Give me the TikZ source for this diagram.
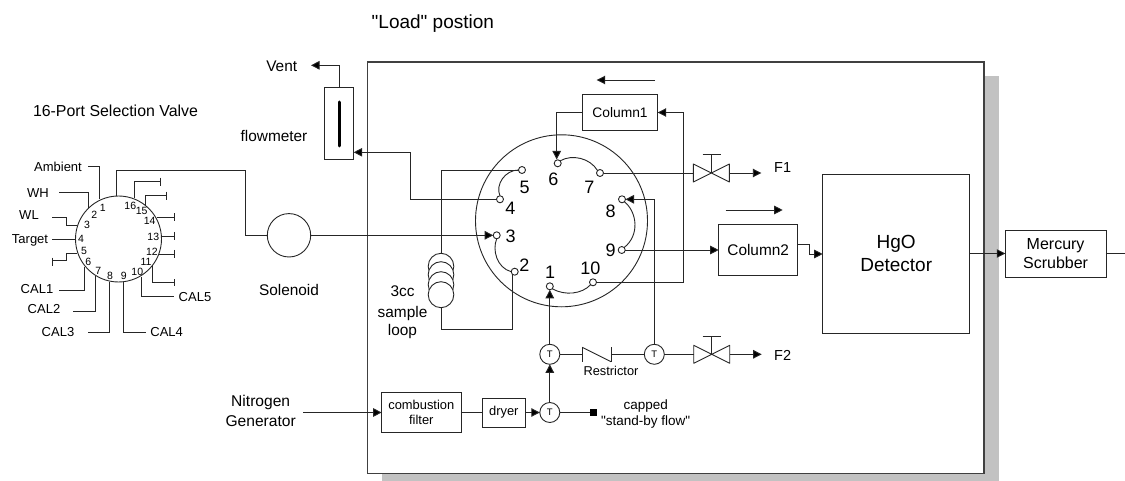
\documentclass[tikz,border=0pt]{standalone}
\usepackage{fontspec}
\setmainfont{Liberation Sans}
\newfontfamily\qf{Liberation Sans}
\usetikzlibrary{arrows.meta,shapes.geometric}
\newcommand{\fs}[1]{\fontsize{#1}{#1}\selectfont}
\newcommand{\qq}{{\qf"}}
\tikzset{
  x=1pt,y=-1pt,
  ln/.style={draw=black!85,line width=0.9pt},
  arr/.style={ln,-{Triangle[length=8.5pt,width=8.5pt,fill=black]}},
  boxn/.style={draw=black!85,line width=0.9pt,rectangle,fill=white,inner sep=0pt,outer sep=0pt,text=black,align=center},
  lab/.style={inner sep=0pt,outer sep=0pt,align=center,text=black,font=\fs{15.4}},
  sm/.style={lab,font=\fs{13}},
  nm/.style={lab,font=\fs{10.5}},
  big/.style={lab,font=\fs{18}},
  port/.style={draw=black!85,circle,line width=0.9pt,fill=white,minimum size=7pt,inner sep=0pt,outer sep=0pt},
  tee/.style={draw=black!85,circle,line width=0.9pt,fill=white,minimum size=20pt,inner sep=0pt,outer sep=0pt,text=black,font=\fs{9.5}},
  ringn/.style={draw=black!85,circle,line width=0.9pt,inner sep=0pt,outer sep=0pt},
  coiln/.style={draw=black!85,ellipse,line width=0.9pt,fill=white,minimum width=25.6pt,minimum height=26pt,inner sep=0pt,outer sep=0pt},
}
\definecolor{shadowgray}{HTML}{C2C2C2}
\begin{document}
\begin{tikzpicture}
\useasboundingbox (0,0) rectangle (1125,481);
% enclosure with shadow
\fill[shadowgray] (382,76) rectangle (999,480.5);
\node[boxn,line width=1.1pt,draw=black!75,minimum width=616.5pt,minimum height=411.3pt] (main) at (675.75,267.65) {};
% titles
\node[lab,font=\fs{19},anchor=west] (title) at (371.7,24) {\qq Load\qq{} postion};
\node[lab,font=\fs{15.9}] (svt) at (115.5,110.7) {16-Port Selection Valve};
% selection valve
\node[ringn,minimum size=86pt] (sv) at (118.5,239) {};
\node[sm] (amb) at (58,167) {Ambient};
\node[sm] (wh) at (38,193) {WH};
\node[sm] (wl) at (29,215) {WL};
\node[sm] (tgt) at (30,240) {Target};
\node[sm] (cal1) at (37,289) {CAL1};
\node[sm] (cal2) at (44,309) {CAL2};
\node[sm] (cal3) at (58,332) {CAL3};
\node[sm] (cal4) at (166.7,332) {CAL4};
\node[sm] (cal5) at (195,297.5) {CAL5};
\foreach \t/\x/\y in {1/102.7/208.3,2/94.3/215.3,3/87/225.3,4/81/238.7,5/84/251,6/88.3/261.7,7/98.3/271,8/110/276.3,9/123.7/276.3,10/137.3/271.7,11/146/261.7,12/152/251.7,13/153.3/236.7,14/149.7/220.7,15/141.7/211.3,16/130.3/205.7}
  \node[nm] (n\t) at (\x,\y) {\t};
\draw[ln] (88,166) -- (99,166) -- (99,199);
\draw[ln] (59,192) -- (88,192) -- (88,208);
\draw[ln] (52,217) -- (66.7,217) -- (66.7,225) -- (77,225);
\draw[ln] (52,239) -- (sv.west);
\draw[ln] (77,253) -- (66.7,253) -- (66.7,260.7) -- (52.3,260.7);
\draw[ln] (52.3,257.7) -- (52.3,266);
\draw[ln] (84.3,266.7) -- (84.3,290) -- (59,290);
\draw[ln] (95,275.7) -- (95,311.7) -- (73,311.7);
\draw[ln] (109.3,281.7) -- (109.3,332.7) -- (88,332.7);
\draw[ln] (123.3,282) -- (123.3,332.7) -- (145.7,332.7);
\draw[ln] (141.7,276.7) -- (141.7,296.7) -- (174,296.7);
\draw[ln] (152.3,265) -- (152.3,282.7) -- (174,282.7);
\draw[ln] (174,279.3) -- (174,286);
\foreach \ya/\xa in {254/159.3,236/161,217.3/156.7}{
  \draw[ln] (\xa,\ya) -- (174,\ya);
  \draw[ln] (174,\ya-4) -- (174,\ya+4);
}
\draw[ln] (145.3,205) -- (145.3,195.7) -- (166.7,195.7);
\draw[ln] (166.7,191.7) -- (166.7,199.7);
\draw[ln] (134,198) -- (134,181.7) -- (160,181.7);
\draw[ln] (160,177.7) -- (160,185.7);
% solenoid
\node[ringn,minimum size=43.4pt] (sol) at (289,235.3) {};
\node[lab] (soll) at (289,289.5) {Solenoid};
\draw[ln] (116.7,195.7) -- (116.7,170.7) -- (245.7,170.7) -- (245.7,235.3) -- (sol.west);
% rotary valve
\node[ringn,minimum size=172pt] (rv) at (561.5,220.8) {};
\node[port] (p1) at (549.8,286.3) {};
\node[port] (p2) at (514.7,271.7) {};
\node[port] (p3) at (496.7,235.3) {};
\node[port] (p4) at (500,199.3) {};
\node[port] (p5) at (522,170) {};
\node[port] (p6) at (557.7,163.3) {};
\node[port] (p7) at (600,173) {};
\node[port] (p8) at (622,199.3) {};
\node[port] (p9) at (621.7,250) {};
\node[port] (p10) at (593,282.3) {};
\foreach \t/\x/\y in {1/550/272.7,2/524.3/265.3,3/510.7/236,4/510.3/208.3,5/524.7/187.3,6/553.3/179,7/589.3/187.3,8/610.7/211,9/610.7/250.7,10/590.3/268.7}
  \node[big] (l\t) at (\x,\y) {\t};
\draw[ln] (p5.west) .. controls (505,170) and (495,185) .. (p4.north);
\draw[ln] (p6.north east) .. controls (572,154) and (590,158) .. (p7.north west);
\draw[ln] (p3.south) .. controls (492,250) and (497,268) .. (p2.west);
\draw[ln] (p1.south east) .. controls (565,296) and (582,294) .. (p10.south west);
\draw[ln] (p8.south east) .. controls (637,212) and (640,235) .. (p9.north east);
% flowmeter
\node[boxn,minimum width=29.4pt,minimum height=72pt] (fm) at (339,123.3) {};
\draw[line width=3pt,black,line cap=round] (339,102) -- (339,146);
\node[lab] (fml) at (274,136) {flowmeter};
\node[lab] (vent) at (281.7,66.7) {Vent};
\coordinate (ventend) at (311,65.3);
\draw[arr] (fm.north) -- (339,65.3) -- (ventend);
\coordinate (fmin) at (353.7,152.3);
\draw[arr] (p4.west) -- (410.7,199.3) -- (410.7,152.3) -- (fmin);
% sample loop
\node[coiln] (c1) at (441,266.3) {};
\node[coiln] (c2) at (441,274.7) {};
\node[coiln] (c3) at (441,284.7) {};
\node[coiln] (c4) at (441,294.7) {};
\draw[ln] (p5.west) -- (441,170) -- (c1.north);
\draw[ln] (c4.south) -- (441,329.3) -- (512.3,329.3) -- (512.3,274.5);
\node[lab] (loopl) at (402.5,312.5) {3cc\\[5pt]sample\\[3.5pt]loop};
\draw[arr] (sol.east) -- (p3.west);
% column 1
\node[boxn,minimum width=75.4pt,minimum height=36.4pt,font=\fs{13.8}] (col1) at (620,112.5) {Column1};
\draw[arr] (col1.west) -- (556.7,112.5) -- (556.7,159.5);
\draw[arr] (p10.east) -- (683,282.3) -- (683,112.5) -- (col1.east);
\coordinate (dirLa) at (655,80); \coordinate (dirLb) at (596.7,80);
\draw[arr] (dirLa) -- (dirLb);
% F1 valve
\coordinate (v1) at (711.3,173);
\draw[ln,line join=round] (693.3,164) -- (729.3,182) -- (729.3,164) -- (693.3,182) -- cycle;
\draw[ln] (v1) -- (711.3,154);
\draw[ln] (702.7,154) -- (720.7,154);
\coordinate (v1in) at (693.3,173); \coordinate (v1out) at (729.3,173); \coordinate (f1end) at (761.3,173);
\draw[ln] (p7.east) -- (v1in);
\draw[arr] (v1out) -- (f1end);
\node[lab,font=\fs{14.5}] (f1) at (782.7,167.3) {F1};
% column 2
\node[boxn,minimum width=79pt,minimum height=51pt,font=\fs{15.4}] (col2) at (758.2,250) {Column2};
\draw[arr] (p9.east) -- (col2.west);
\coordinate (dirRa) at (725.7,210); \coordinate (dirRb) at (782.7,210);
\draw[arr] (dirRa) -- (dirRb);
% detector
\node[boxn,minimum width=147pt,minimum height=159pt,font=\fs{19}] (det) at (896.2,253.5) {HgO\\[4pt]Detector};
\coordinate (detin) at (822.7,254);
\draw[arr] (797.7,244.7) -- (809.3,244.7) -- (809.3,254) -- (detin);
% scrubber
\node[boxn,minimum width=100.7pt,minimum height=47pt,font=\fs{16}] (scr) at (1055.6,253.5) {Mercury\\[3pt]Scrubber};
\draw[arr] (det.east) -- (scr.west);
\coordinate (scrend) at (1125,253.5);
\draw[ln] (scr.east) -- (scrend);
% bottom line
\node[tee] (t1) at (549.8,354.3) {T};
\node[tee] (t2) at (654.3,354.3) {T};
\node[tee] (t3) at (549.8,412.5) {T};
\draw[arr] (t1.north) -- (p1.south);
\draw[ln] (t2.north) -- (654.3,199.3);
\draw[arr] (654.3,199.3) -- (p8.east);
\coordinate (ra) at (582.3,354.3); \coordinate (rb) at (611,354.3);
\draw[ln] (t1.east) -- (ra);
\draw[ln] (582.3,347.3) -- (582.3,362.3);
\draw[ln] (582.3,347.3) -- (611,361.7);
\draw[ln] (611,347.3) -- (611,362.3);
\draw[ln] (rb) -- (t2.west);
\node[lab,font=\fs{12.8}] (rest) at (611,370.7) {Restrictor};
% F2 valve
\coordinate (v2) at (711.3,354.3);
\draw[ln,line join=round] (693.7,345.3) -- (729.7,363.3) -- (729.7,345.3) -- (693.7,363.3) -- cycle;
\draw[ln] (v2) -- (711.3,336);
\draw[ln] (702.7,336) -- (720.7,336);
\coordinate (v2in) at (693.7,354.3); \coordinate (v2out) at (729.7,354.3); \coordinate (f2end) at (761.7,354.3);
\draw[ln] (t2.east) -- (v2in);
\draw[arr] (v2out) -- (f2end);
\node[lab,font=\fs{14.5}] (f2) at (782.7,355) {F2};
% filter and dryer
\node[boxn,minimum width=79.3pt,minimum height=39.6pt,font=\fs{12.9}] (filt) at (421.3,412.5) {combustion\\[2pt]filter};
\node[boxn,minimum width=43.7pt,minimum height=29pt,font=\fs{12.9}] (dry) at (503.8,412.5) {dryer};
\node[lab,font=\fs{15.6}] (nit) at (260.7,410.7) {Nitrogen\\[4pt]Generator};
\coordinate (nitend) at (303.3,412.5);
\draw[arr] (nitend) -- (filt.west);
\draw[ln] (filt.east) -- (dry.west);
\draw[arr] (dry.east) -- (t3.west);
\draw[arr] (t3.north) -- (t1.south);
\node[fill=black,draw=none,minimum size=7.5pt,inner sep=0pt,outer sep=0pt] (cap) at (593.5,412.5) {};
\draw[ln] (t3.east) -- (cap.west);
\node[lab,font=\fs{13.5}] (capl) at (645.7,414) {capped\\[2pt]\qq stand-by flow\qq};
\end{tikzpicture}
\end{document}
